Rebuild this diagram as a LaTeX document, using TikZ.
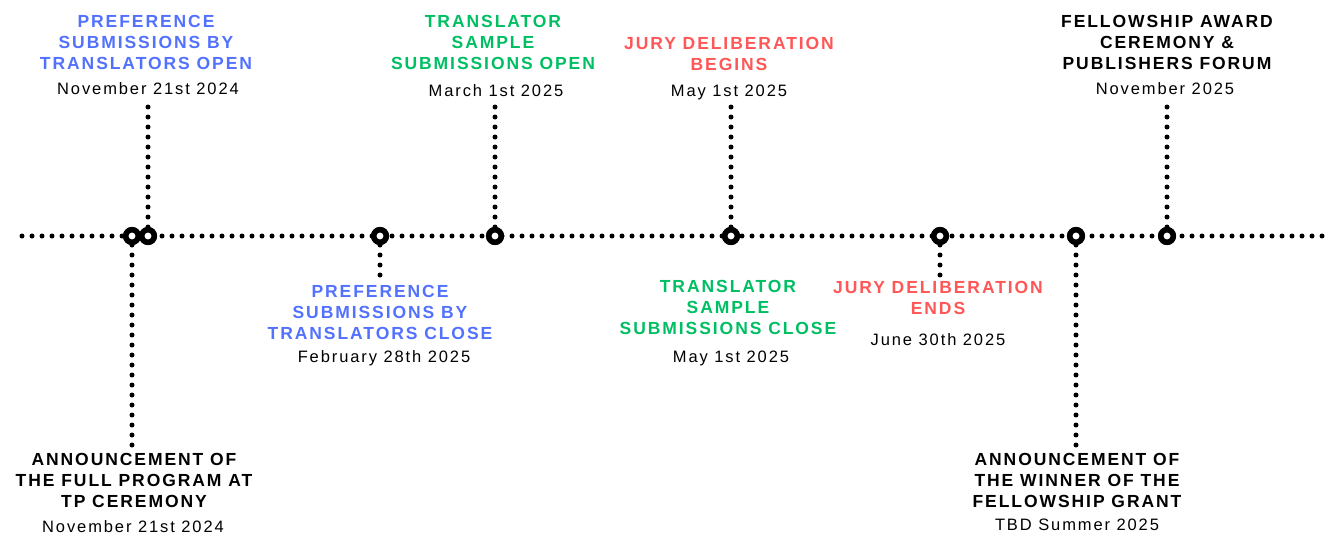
\documentclass[tikz,border=0pt]{standalone}
\usepackage{fontspec}
\setmainfont{Liberation Sans}
\newfontfamily\headfam{Liberation Sans}[LetterSpace=11]
\newfontfamily\datefam{Liberation Sans}[LetterSpace=11.5]
\definecolor{evblue}{HTML}{5271FF}
\definecolor{evgreen}{HTML}{00BF63}
\definecolor{evred}{HTML}{FF5757}
\tikzset{
  tline/.style={line width=5pt, line cap=round, dash pattern=on 0pt off 10pt},
  ring/.style={draw, circle, line width=5.5pt, fill=white, minimum size=12.5pt, inner sep=0pt},
  evhead/.style={anchor=north, align=center, inner sep=0pt, font=\headfam\bfseries\fontsize{17.5}{21}\selectfont},
  evdate/.style={anchor=base, inner sep=0pt, font=\datefam\fontsize{16.5}{20}\selectfont}
}

\begin{document}
\begin{tikzpicture}[x=1pt, y=-1pt]
    \useasboundingbox (0,0) rectangle (1328,535);
    \coordinate (ls) at (22,236);
    \coordinate (le) at (1330,236);
    \draw [tline] (ls) -- (le);

    \node [ring] (m1) at (132, 236) {};
    \node [ring] (m2) at (148, 236) {};
    \node [ring] (m3) at (380, 236) {};
    \node [ring] (m4) at (495, 236) {};
    \node [ring] (m5) at (731, 236) {};
    \node [ring] (m6) at (940, 236) {};
    \node [ring] (m7) at (1076, 236) {};
    \node [ring] (m8) at (1167, 236) {};

    \coordinate (v1) at (148, 106);
    \coordinate (v2) at (495, 106);
    \coordinate (v3) at (731, 106);
    \coordinate (v4) at (1167, 106);
    \coordinate (v5) at (132, 446);
    \coordinate (v6) at (1076, 446);
    \coordinate (v7) at (380, 276);
    \coordinate (v8) at (940, 276);
    \draw [tline] (m2) -- (v1);
    \draw [tline] (m4) -- (v2);
    \draw [tline] (m5) -- (v3);
    \draw [tline] (m8) -- (v4);
    \draw [tline] (m1) -- (v5);
    \draw [tline] (m7) -- (v6);
    \draw [tline] (m3) -- (v7);
    \draw [tline] (m6) -- (v8);
    \node [ring] at (m1) {};
    \node [ring] at (m2) {};
    \node [ring] at (m3) {};
    \node [ring] at (m4) {};
    \node [ring] at (m5) {};
    \node [ring] at (m6) {};
    \node [ring] at (m7) {};
    \node [ring] at (m8) {};

    \node [evhead, text=evblue] (t1) at (146, 15) {PREFERENCE\\SUBMISSIONS BY\\TRANSLATORS OPEN};
    \node [evhead, text=evgreen] (t2) at (493, 15) {TRANSLATOR\\SAMPLE\\SUBMISSIONS OPEN};
    \node [evhead, text=evred] (t3) at (729, 37.3) {JURY DELIBERATION\\BEGINS};
    \node [evhead] (t4) at (1167, 15) {FELLOWSHIP AWARD\\CEREMONY \&\\PUBLISHERS FORUM};
    \node [evhead] (t5) at (134, 452.7) {ANNOUNCEMENT OF\\THE FULL PROGRAM AT\\TP CEREMONY};
    \node [evhead] (t6) at (1077, 452.7) {ANNOUNCEMENT OF\\THE WINNER OF THE\\FELLOWSHIP GRANT};
    \node [evhead, text=evblue] (t7) at (380, 285) {PREFERENCE\\SUBMISSIONS BY\\TRANSLATORS CLOSE};
    \node [evhead, text=evgreen] (t8) at (728, 280) {TRANSLATOR\\SAMPLE\\SUBMISSIONS CLOSE};
    \node [evhead, text=evred] (t9) at (938, 281) {JURY DELIBERATION\\ENDS};

    \node [evdate] (d1) at (148, 95) {November 21st 2024};
    \node [evdate] (d2) at (496, 96) {March 1st 2025};
    \node [evdate] (d3) at (729, 96.7) {May 1st 2025};
    \node [evdate] (d4) at (1165, 95) {November 2025};
    \node [evdate] (d5) at (133, 532.7) {November 21st 2024};
    \node [evdate] (d6) at (1077, 530) {TBD Summer 2025};
    \node [evdate] (d7) at (384, 362.7) {February 28th 2025};
    \node [evdate] (d8) at (731, 362.3) {May 1st 2025};
    \node [evdate] (d9) at (938, 345.7) {June 30th 2025};
  \end{tikzpicture}
\end{document}
